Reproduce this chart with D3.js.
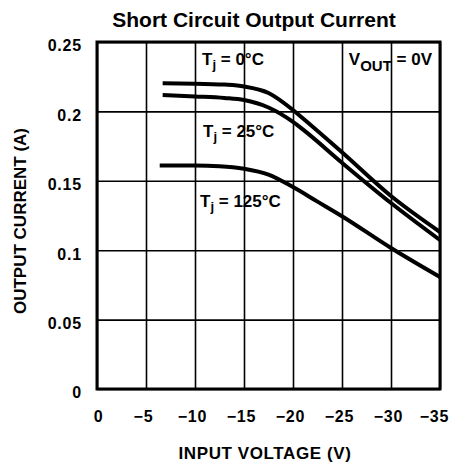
<!DOCTYPE html>
<html>
<head>
<meta charset="utf-8">
<script src="https://cdn.jsdelivr.net/npm/d3@7"></script>
<style>
  body { margin: 0; background: #fff; }
  svg { display: block; }
  .lbl { font-family: "Liberation Sans", Arial, sans-serif; font-weight: bold; }
</style>
</head>
<body>
<svg width="449" height="468"></svg>
<script>
const svgWidth = 449;
const svgHeight = 468;

const margin = { top: 42, left: 97, bottom: 79, right: 9 };
const width = svgWidth - (margin.left + margin.right);
const height = svgHeight - (margin.top + margin.bottom);

// data
const xTicks = [0, -5, -10, -15, -20, -25, -30, -35];
const yTicks = [0, 0.05, 0.1, 0.15, 0.2, 0.25];
const yTickLabels = ["0", "0.05", "0.1", "0.15", "0.2", "0.25"];

const vin0 = [-6.7, -10, -13, -15, -17.5, -20, -21, -25, -30, -35];
const iout0 = [0.2202, 0.2200, 0.2193, 0.2180, 0.2133, 0.2010, 0.1950, 0.1705, 0.139, 0.1131];

const vin25 = [-6.7, -10, -13, -15, -17.5, -20, -21, -25, -30, -35];
const iout25 = [0.2118, 0.2108, 0.2097, 0.2082, 0.2028, 0.1924, 0.1870, 0.163, 0.134, 0.1073];

const vin125 = [-6.4, -10, -12.5, -15, -17.5, -20, -22.5, -25, -30, -35];
const iout125 = [0.161, 0.161, 0.1605, 0.1587, 0.1545, 0.1455, 0.1350, 0.1245, 0.1016, 0.0807];

const series = [
  { x: vin0, y: iout0 },
  { x: vin25, y: iout25 },
  { x: vin125, y: iout125 }
];

const svg = d3.select("svg");

const xScale = d3.scaleLinear().domain([0, -35]).range([0, width]);
const yScale = d3.scaleLinear().domain([0, 0.25]).range([height, 0]);

const g = svg.append("g")
  .attr("transform", `translate(${margin.left},${margin.top})`);

// title
svg.append("text")
  .attr("class", "lbl")
  .text("Short Circuit Output Current")
  .attr("x", 254)
  .attr("y", 27)
  .attr("text-anchor", "middle")
  .style("font-size", "21px");

// x axis + vertical grid
const xAxis = d3.axisBottom(xScale)
  .tickValues(xTicks)
  .tickSize(-height)
  .tickPadding(22)
  .tickFormat(d => d === 0 ? "0" : "\u2212" + Math.abs(d));

const xg = g.append("g")
  .attr("class", "xAxis")
  .attr("transform", `translate(0,${height})`)
  .call(xAxis);

// y axis + horizontal grid
const yAxis = d3.axisLeft(yScale)
  .tickValues(yTicks)
  .tickSize(-width)
  .tickPadding(15)
  .tickFormat((d, i) => yTickLabels[i]);

const yg = g.append("g")
  .attr("class", "yAxis")
  .call(yAxis);

[xg, yg].forEach(a => {
  a.select(".domain").remove();
  a.selectAll("line").attr("stroke", "#000").attr("stroke-width", 1.6);
  a.selectAll("text")
    .attr("class", "lbl")
    .attr("fill", "#000")
    .style("font-size", "16px")
    .style("letter-spacing", "0.8px");
});

yg.selectAll("text").attr("dy", "0.55em");

// keep digits centred on the tick, minus sign hangs left
const minusW = (function () {
  const t = svg.append("text").attr("class", "lbl")
    .style("font-size", "16px").style("letter-spacing", "0.8px").text("\u2212 ");
  const w = t.node().getComputedTextLength();
  t.remove();
  return w;
})();
xg.selectAll("text")
  .attr("dx", d => (d === 0 ? 1 : -minusW / 2 + (d === -35 ? -1 : 2)));

// frame
g.append("rect")
  .attr("x", 0).attr("y", 0)
  .attr("width", width).attr("height", height)
  .attr("fill", "none")
  .attr("stroke", "#000")
  .attr("stroke-width", 3);

// curves
const line = d3.line()
  .x(d => xScale(d[0]))
  .y(d => yScale(d[1]))
  .curve(d3.curveMonotoneX);

g.selectAll(".curve")
  .data(series)
  .enter()
  .append("path")
  .attr("class", "curve")
  .attr("d", s => line(s.x.map((v, i) => [v, s.y[i]])))
  .attr("fill", "none")
  .attr("stroke", "#000")
  .attr("stroke-width", 4);

// annotations
function tjLabel(x, y, rest) {
  const t = svg.append("text")
    .attr("class", "lbl")
    .attr("x", x).attr("y", y)
    .style("font-size", "17px");
  t.append("tspan").text("T");
  t.append("tspan").text("j").attr("dy", 4).style("font-size", "13px");
  t.append("tspan").text(" = " + rest).attr("dy", -4);
}
tjLabel(202, 65, "0\u00B0C");
tjLabel(203, 137, "25\u00B0C");
tjLabel(200, 207, "125\u00B0C");

const vout = svg.append("text")
  .attr("class", "lbl")
  .attr("x", 432).attr("y", 65)
  .attr("text-anchor", "end")
  .style("font-size", "17px");
vout.append("tspan").text("V");
vout.append("tspan").text("OUT").attr("dy", 6).style("font-size", "15px");
vout.append("tspan").text(" = 0V").attr("dy", -6);

// axis titles
svg.append("text")
  .attr("class", "lbl")
  .text("INPUT VOLTAGE (V)")
  .attr("x", 265)
  .attr("y", 459)
  .attr("text-anchor", "middle")
  .style("font-size", "17px")
  .style("letter-spacing", "0.6px");

svg.append("text")
  .attr("class", "lbl")
  .text("OUTPUT CURRENT (A)")
  .attr("transform", "translate(26,221) rotate(-90)")
  .attr("text-anchor", "middle")
  .style("font-size", "17px");
</script>
</body>
</html>
